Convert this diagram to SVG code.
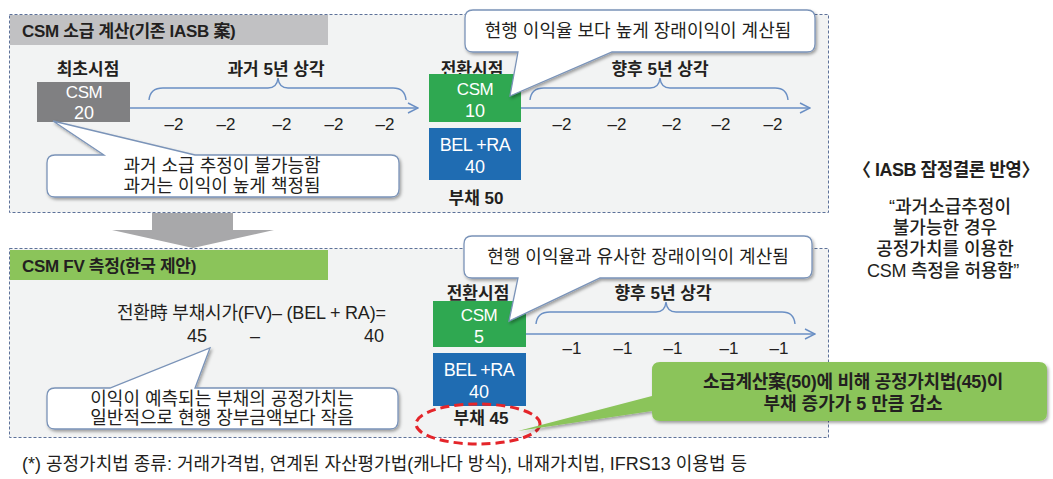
<svg xmlns="http://www.w3.org/2000/svg" width="1053" height="479" viewBox="0 0 1053 479">
<defs>
<style>
text{font-family:"Liberation Sans","Noto Sans CJK KR",sans-serif;fill:#231f20}
.b{font-weight:bold}
.w{fill:#ffffff}
.c{text-anchor:middle}
.panel{fill:#f2f3f3;stroke:#5d7199;stroke-width:1;stroke-dasharray:3 2}
.ax{fill:none;stroke:#6a8fc4;stroke-width:1.4}
.co{fill:#ffffff;stroke:#7a93b8;stroke-width:1.3}
.f17{font-size:17px}
.f18{font-size:18px}
</style>
<marker id="ah" viewBox="0 0 12 12" refX="11" refY="6" markerWidth="12" markerHeight="12" markerUnits="userSpaceOnUse" orient="auto">
<polyline points="1,1 11,6 1,11" fill="none" stroke="#6a8fc4" stroke-width="1.4"/>
</marker>
<filter id="sh" x="-10%" y="-20%" width="130%" height="160%">
<feDropShadow dx="1.5" dy="2" stdDeviation="1.5" flood-color="#000" flood-opacity="0.35"/>
</filter>
</defs>
<rect width="1053" height="479" fill="#ffffff"/>

<!-- top panel -->
<g id="panel-top">
<rect class="panel" x="9.5" y="14.5" width="819" height="198"/>
<rect x="10" y="15" width="318" height="30" fill="#c1c1c3"/>
<text class="b f17" x="22" y="37" letter-spacing="-0.3">CSM 소급 계산(기존 IASB 案)</text>
</g>

<!-- gray arrow -->
<g id="down-arrow">
<polygon points="152,213 233,213 233,230 274,230 193,248 112,230 152,230" fill="#a8a8aa"/>
</g>

<!-- bottom panel -->
<g id="panel-bottom">
<rect class="panel" x="9.5" y="248.5" width="819" height="189"/>
<rect x="10" y="250" width="318" height="30" fill="#8bc45a"/>
<text class="b f17" x="22" y="272" letter-spacing="-0.3">CSM FV 측정(한국 제안)</text>
</g>

<!-- connectors -->
<g id="connectors">
<path class="ax" d="M130,108 H418" marker-end="url(#ah)"/>
<path class="ax" d="M149,100 Q150,88 163,88 H268 Q277,88 278,78 Q279,88 288,88 H393 Q405,88 406,100"/>
<path class="ax" d="M521,108 H810" marker-end="url(#ah)"/>
<path class="ax" d="M530,100 Q531,88 544,88 H650 Q659,88 660,78 Q661,88 670,88 H775 Q787,88 788,100"/>
<path class="ax" d="M526,334 H815" marker-end="url(#ah)"/>
<path class="ax" d="M536,324 Q537,312 550,312 H656 Q665,312 666,302 Q667,312 676,312 H782 Q794,312 795,324"/>
</g>

<!-- top panel nodes -->
<g id="initial-csm">
<text class="b f17 c" x="88" y="75">최초시점</text>
<rect x="37" y="82" width="93" height="40" fill="#808082"/>
<text class="w f17 c" x="84" y="98" letter-spacing="-0.5">CSM</text>
<text class="w f18 c" x="84" y="119">20</text>
</g>
<g id="past-amort">
<text class="b f17 c" x="276" y="75">과거 5년 상각</text>
<text class="f17 c" x="174" y="130">–2</text>
<text class="f17 c" x="226" y="130">–2</text>
<text class="f17 c" x="282" y="130">–2</text>
<text class="f17 c" x="334" y="130">–2</text>
<text class="f17 c" x="385" y="130">–2</text>
</g>
<g id="callout-past">
<path class="co" filter="url(#sh)" d="M55,155 Q47,155 47,163 V189 Q47,197 55,197 H391 Q399,197 399,189 V163 Q399,155 391,155 H195 L53,121 L104,155 Z"/>
<text class="f18 c" x="222" y="172">과거 소급 추정이 불가능함</text>
<text class="f18 c" x="222" y="192">과거는 이익이 높게 책정됨</text>
</g>
<g id="transition-top">
<text class="b f17 c" x="472" y="75">전환시점</text>
<rect x="429" y="74" width="92" height="48" fill="#2fa851"/>
<text class="w f17 c" x="475" y="95" letter-spacing="-0.5">CSM</text>
<text class="w f18 c" x="475" y="117">10</text>
<rect x="429" y="128" width="92" height="52" fill="#1f6cb2"/>
<text class="w f18 c" x="475" y="151" letter-spacing="-0.5">BEL +RA</text>
<text class="w f18 c" x="475" y="173">40</text>
<text class="b f17 c" x="476" y="204">부채 50</text>
</g>
<g id="callout-top">
<path class="co" filter="url(#sh)" d="M473,10 Q465,10 465,18 V44 Q465,52 473,52 H518 L510,96 L612,52 H807 Q815,52 815,44 V18 Q815,10 807,10 Z"/>
<text class="f18 c" x="638" y="37">현행 이익율 보다 높게 장래이익이 계산됨</text>
</g>
<g id="future-amort-top">
<text class="b f17 c" x="660" y="75">향후 5년 상각</text>
<text class="f17 c" x="562" y="130">–2</text>
<text class="f17 c" x="617" y="130">–2</text>
<text class="f17 c" x="672" y="130">–2</text>
<text class="f17 c" x="721" y="130">–2</text>
<text class="f17 c" x="773" y="130">–2</text>
</g>

<!-- right note -->
<g id="iasb-note">
<text class="b f18 c" x="946" y="176" letter-spacing="-0.5">〈 IASB 잠정결론 반영〉</text>
<text class="f18 c" x="950" y="213" font-weight="500">“과거소급추정이</text>
<text class="f18 c" x="945" y="234" font-weight="500">불가능한 경우</text>
<text class="f18 c" x="945" y="255" font-weight="500">공정가치를 이용한</text>
<text class="f18 c" x="943" y="277" font-weight="500" letter-spacing="-0.3">CSM 측정을 허용함”</text>
</g>

<!-- bottom panel nodes -->
<g id="formula">
<text class="f18" x="117" y="319" letter-spacing="-0.2">전환時 부채시가(FV)– (BEL + RA)=</text>
<text class="f18 c" x="197" y="342">45</text>
<text class="f18 c" x="255" y="342">–</text>
<text class="f18 c" x="374" y="342">40</text>
</g>
<g id="callout-fv">
<path class="co" filter="url(#sh)" d="M55,388 Q47,388 47,396 V421 Q47,429 55,429 H390 Q398,429 398,421 V396 Q398,388 390,388 H195 L210,348 L110,388 Z"/>
<text class="f18 c" x="222" y="405">이익이 예측되는  부채의 공정가치는</text>
<text class="f18 c" x="222" y="424">일반적으로 현행 장부금액보다 작음</text>
</g>
<g id="transition-bottom">
<text class="b f17 c" x="478" y="299">전환시점</text>
<rect x="433" y="301" width="93" height="46" fill="#2fa851"/>
<text class="w f17 c" x="479" y="321" letter-spacing="-0.5">CSM</text>
<text class="w f18 c" x="479" y="343">5</text>
<rect x="433" y="353" width="93" height="53" fill="#1f6cb2"/>
<text class="w f18 c" x="479" y="376" letter-spacing="-0.5">BEL +RA</text>
<text class="w f18 c" x="479" y="398">40</text>
<text class="b f17 c" x="481" y="424">부채 45</text>
<ellipse cx="478" cy="424" rx="62" ry="20" fill="none" stroke="#e4252a" stroke-width="3" stroke-dasharray="9 5"/>
</g>
<g id="callout-bottom">
<path class="co" filter="url(#sh)" d="M472,236 Q464,236 464,244 V270 Q464,278 472,278 H518 L509,321 L600,278 H804 Q812,278 812,270 V244 Q812,236 804,236 Z"/>
<text class="f18 c" x="638" y="263">현행 이익율과 유사한 장래이익이 계산됨</text>
</g>
<g id="future-amort-bottom">
<text class="b f17 c" x="663" y="299">향후 5년 상각</text>
<text class="f17 c" x="572" y="354">–1</text>
<text class="f17 c" x="623" y="354">–1</text>
<text class="f17 c" x="673" y="354">–1</text>
<text class="f17 c" x="729" y="354">–1</text>
<text class="f17 c" x="779" y="354">–1</text>
</g>
<g id="callout-green">
<path filter="url(#sh)" fill="#8bc45a" d="M660,362 Q652,362 652,370 V396 L518,431 L652,411 V413 Q652,421 660,421 H1039 Q1047,421 1047,413 V370 Q1047,362 1039,362 Z"/>
<text class="b f18 c" x="853" y="388" letter-spacing="-0.3">소급계산案(50)에 비해 공정가치법(45)이</text>
<text class="b f18 c" x="853" y="410">부채 증가가 5 만큼 감소</text>
</g>

<!-- footer -->
<g id="footer">
<text class="f18" x="22" y="470">(*) 공정가치법 종류: 거래가격법, 연계된 자산평가법(캐나다 방식), 내재가치법, IFRS13 이용법 등</text>
</g>
</svg>
